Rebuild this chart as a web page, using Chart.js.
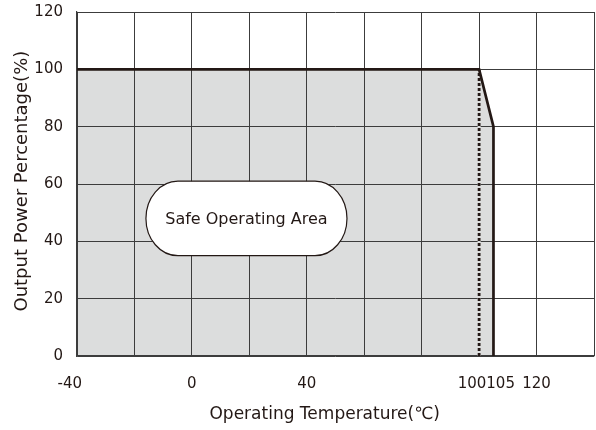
<!DOCTYPE html>
<html>
<head>
<meta charset="utf-8">
<script src="https://cdn.jsdelivr.net/npm/chart.js@4/dist/chart.umd.min.js"></script>
<style>
  html, body { margin: 0; padding: 0; background: #ffffff; }
  #wrap { width: 596px; height: 430px; }
</style>
</head>
<body>
<div id="wrap"><canvas id="c" width="596" height="430"></canvas></div>
<script>
// ---- data ----
const curveTemps = [-40, 100, 105, 105];
const curvePower = [100, 100, 80, 0];
const derateStartTemps = [100, 100];
const derateStartPower = [0, 100];
const xTickValues = [-40, 0, 40, 100, 105, 120];
const xTickLabels = ['-40', '0', '40', '100', '105', '120'];
const xGridValues = [-40, -20, 0, 20, 40, 60, 80, 100, 120, 140];
const yTickValues = [0, 20, 40, 60, 80, 100, 120];
const areaLabel = 'Safe Operating Area';
const areaLabelTemps = [-16, 54];
const areaLabelPower = [35, 61];
const xTitle = 'Operating Temperature(℃)';
const yTitle = 'Output Power Percentage(%)';

const pts = (xs, ys) => xs.map((x, i) => ({ x: x, y: ys[i] }));

const INK = '#231815';
const GRID = '#3c3c3c';
const FILL = '#dcdddd';

const labelBox = {
  id: 'labelBox',
  afterDatasetsDraw(chart) {
    const { ctx, scales: { x, y } } = chart;
    const l = x.getPixelForValue(areaLabelTemps[0]);
    const r = x.getPixelForValue(areaLabelTemps[1]);
    const t = y.getPixelForValue(areaLabelPower[1]);
    const b = y.getPixelForValue(areaLabelPower[0]);
    const cy = (t + b) / 2;
    const ry = (b - t) / 2;
    const rx = 32;
    ctx.save();
    ctx.beginPath();
    ctx.moveTo(l + rx, t);
    ctx.lineTo(r - rx, t);
    ctx.ellipse(r - rx, cy, rx, ry, 0, -Math.PI / 2, Math.PI / 2);
    ctx.lineTo(l + rx, b);
    ctx.ellipse(l + rx, cy, rx, ry, 0, Math.PI / 2, Math.PI * 1.5);
    ctx.closePath();
    ctx.fillStyle = '#ffffff';
    ctx.fill();
    ctx.lineWidth = 1.2;
    ctx.strokeStyle = INK;
    ctx.stroke();
    ctx.fillStyle = INK;
    ctx.font = '16px "DejaVu Sans"';
    ctx.textAlign = 'center';
    ctx.textBaseline = 'middle';
    ctx.fillText(areaLabel, (l + r) / 2, cy + 1);
    ctx.restore();
  }
};

new Chart(document.getElementById('c'), {
  type: 'line',
  data: {
    datasets: [
      {
        data: pts(curveTemps, curvePower),
        borderColor: INK,
        borderWidth: 2.7,
        backgroundColor: FILL,
        fill: 'origin',
        pointRadius: 0,
        tension: 0,
        order: 1
      },
      {
        data: pts(derateStartTemps, derateStartPower),
        borderColor: INK,
        borderWidth: 2.8,
        borderDash: [3, 2],
        borderCapStyle: 'butt',
        fill: false,
        pointRadius: 0,
        order: 2
      },
      {
        data: pts(derateStartTemps, derateStartPower),
        borderColor: FILL,
        borderWidth: 3,
        fill: false,
        pointRadius: 0,
        order: 3
      }
    ]
  },
  options: {
    responsive: false,
    animation: false,
    devicePixelRatio: 1,
    layout: { padding: { top: 12, right: 2, left: 0, bottom: 0 } },
    plugins: {
      legend: { display: false },
      tooltip: { enabled: false },
      filler: { drawTime: 'beforeDraw' }
    },
    scales: {
      x: {
        type: 'linear',
        min: -40,
        max: 140,
        afterBuildTicks(scale) {
          const vals = Array.from(new Set(xGridValues.concat(xTickValues))).sort((a, b) => a - b);
          scale.ticks = vals.map(v => ({ value: v }));
        },
        afterFit(scale) {
          scale.height = 74;
          scale.paddingLeft = 0;
          scale.paddingRight = 0;
        },
        grid: {
          color: ctx => (ctx.tick && xGridValues.indexOf(ctx.tick.value) === -1) ? 'rgba(0,0,0,0)' : GRID,
          lineWidth: 1,
          drawTicks: false
        },
        border: { color: GRID, width: 1.2 },
        ticks: {
          autoSkip: false,
          maxRotation: 0,
          padding: 19,
          color: INK,
          font: { family: 'DejaVu Sans', size: 15 },
          callback(v) {
            const i = xTickValues.indexOf(v);
            if (i === -1) return '';
            const s = xTickLabels[i];
            if (v === -40 || v === 100) return s + '   ';
            if (v === 105) return '   ' + s;
            return s;
          }
        },
        title: {
          display: true,
          text: xTitle + '    ',
          color: INK,
          font: { family: 'DejaVu Sans', size: 17 },
          padding: { top: 0, bottom: 5 }
        }
      },
      y: {
        type: 'linear',
        min: 0,
        max: 120,
        afterBuildTicks(scale) {
          scale.ticks = yTickValues.map(v => ({ value: v }));
        },
        afterFit(scale) {
          scale.width = 77;
          scale.paddingTop = 0;
          scale.paddingBottom = 0;
        },
        grid: { color: GRID, lineWidth: 1, drawTicks: false },
        border: { color: GRID, width: 1.2 },
        ticks: {
          padding: 14,
          color: INK,
          font: { family: 'DejaVu Sans', size: 15 }
        },
        title: {
          display: true,
          text: ' ' + yTitle,
          color: INK,
          font: { family: 'DejaVu Sans', size: 18 },
          padding: { top: 11.2, bottom: 0 }
        }
      }
    }
  },
  plugins: [labelBox]
});
</script>
</body>
</html>
